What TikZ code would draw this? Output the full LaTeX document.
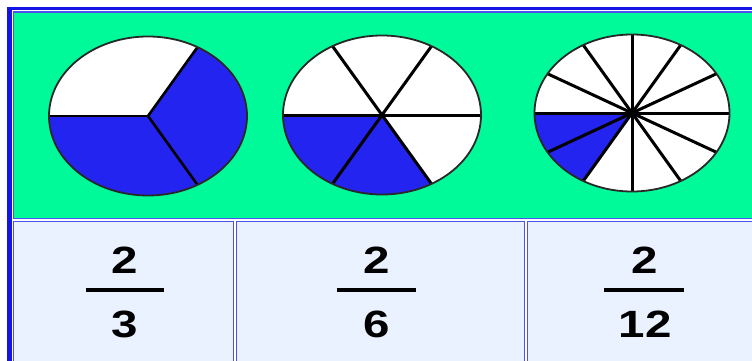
\documentclass[tikz,border=0pt]{standalone}
\usepackage{fontspec}
\setmainfont{Liberation Sans}
\definecolor{springg}{RGB}{0,250,154}
\definecolor{pieblue}{RGB}{36,36,240}
\definecolor{frameblue}{RGB}{20,20,230}
\definecolor{cellblue}{RGB}{80,80,240}
\definecolor{cellfill}{RGB}{234,242,255}
\definecolor{rimgray}{RGB}{40,40,40}
\tikzset{
  cellbox/.style={draw=cellblue, line width=1.2pt},
  piefill/.style={fill=pieblue},
  spoke/.style={draw=black, line width=3pt},
  rim/.style={draw=rimgray, line width=1.8pt},
  fracdigit/.style={inner sep=0pt, font=\fontsize{38}{38}\selectfont\bfseries},
  fracbar/.style={draw=black, line width=4pt}
}
\newcommand{\wide}[1]{\scalebox{1.25}[1]{#1}}
\begin{document}
\begin{tikzpicture}[x=1pt,y=1pt]
\useasboundingbox (0,0) rectangle (752,360);
\fill[white] (0,0) rectangle (752,360);
% outer table frame
\fill[frameblue] (7.3,-5) rectangle (11.8,353);
\fill[frameblue] (7.3,350.3) rectangle (760,353);
% green cell
\draw[cellbox, fill=springg] (13.5,348) rectangle (770,141.5);
% lower cells
\draw[cellbox, fill=cellfill] (13.5,138.5) rectangle (233.5,-5);
\draw[cellbox, fill=cellfill] (236.8,138.5) rectangle (524.3,-5);
\draw[cellbox, fill=cellfill] (527.6,138.5) rectangle (770,-5);

% pie 1 : thirds
\coordinate (c1) at (148,244);
\fill[white] (c1) ellipse [x radius=99, y radius=79.5];
\fill[piefill] (c1) -- ++(-60:99 and 79.5) arc [start angle=-60, end angle=60, x radius=99, y radius=79.5] -- cycle;
\fill[piefill] (c1) -- ++(180:99 and 79.5) arc [start angle=180, end angle=300, x radius=99, y radius=79.5] -- cycle;
\foreach \a in {60,180,300} \draw[spoke, line width=2.6pt] (c1) -- ++(\a:99 and 79.5);
\draw[rim] (c1) ellipse [x radius=99, y radius=79.5];

% pie 2 : sixths
\coordinate (c2) at (382,245);
\fill[white] (c2) ellipse [x radius=99, y radius=79.5];
\fill[piefill] (c2) -- ++(180:99 and 79.5) arc [start angle=180, end angle=300, x radius=99, y radius=79.5] -- cycle;
\foreach \a in {0,60,...,300} \draw[spoke] (c2) -- ++(\a:99 and 79.5);
\draw[rim] (c2) ellipse [x radius=99, y radius=79.5];

% pie 3 : twelfths
\coordinate (c3) at (632,247);
\fill[white] (c3) ellipse [x radius=97.5, y radius=78.5];
\fill[piefill] (c3) -- ++(180:97.5 and 78.5) arc [start angle=180, end angle=240, x radius=97.5, y radius=78.5] -- cycle;
\foreach \a in {0,30,...,330} \draw[spoke] (c3) -- ++(\a:97.5 and 78.5);
\fill[black] (c3) circle (4);
\draw[rim] (c3) ellipse [x radius=97.5, y radius=78.5];

% fractions
\node[fracdigit] (n1) at (125,100) {\wide{2}};
\node[fracdigit] (d1) at (125,36) {\wide{3}};
\draw[fracbar] (86,70) -- (164,70);

\node[fracdigit] (n2) at (376.5,100) {\wide{2}};
\node[fracdigit] (d2) at (376.5,36) {\wide{6}};
\draw[fracbar] (337,70) -- (416,70);

\node[fracdigit] (n3) at (645,100) {\wide{2}};
\node[fracdigit] (d3) at (645,36) {\wide{12}};
\draw[fracbar] (604,70) -- (684,70);
\end{tikzpicture}
\end{document}
